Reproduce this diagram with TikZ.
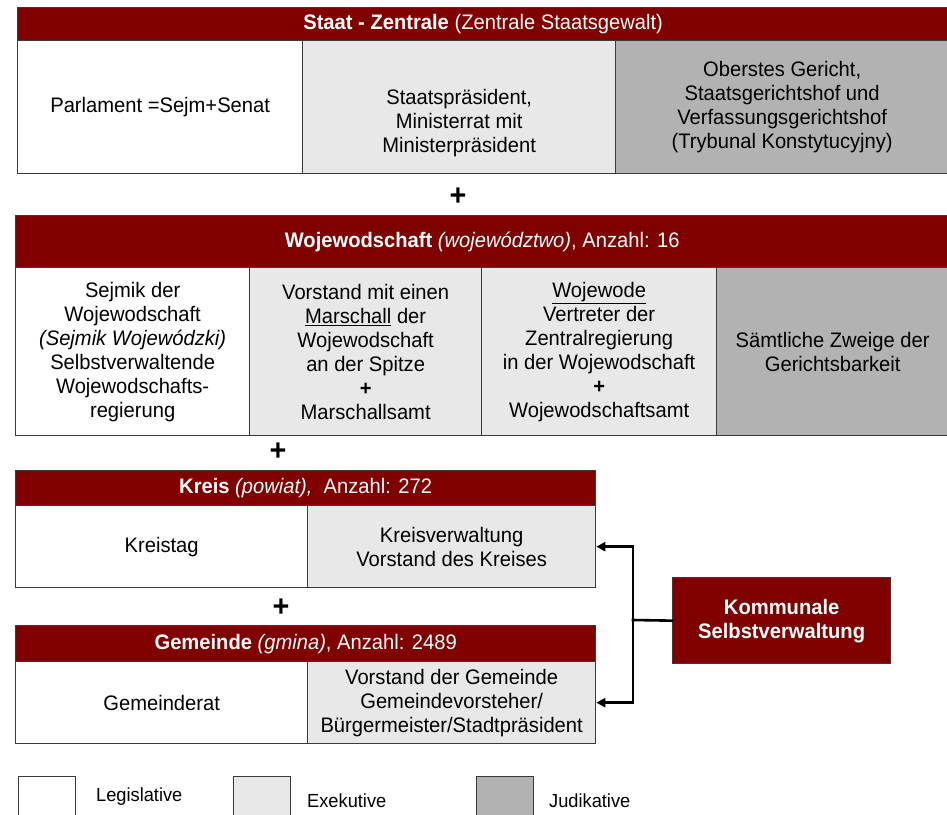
\documentclass[tikz,border=0pt]{standalone}
\usepackage{fontspec}
\setmainfont{Liberation Sans}[FakeStretch=0.96]
\usetikzlibrary{arrows.meta}

\definecolor{wine}{HTML}{800000}
\definecolor{execgray}{HTML}{E8E8E8}
\definecolor{judgray}{HTML}{B2B2B2}
\definecolor{rim}{HTML}{3A3A3A}

\tikzset{
  box/.style={draw=rim, line width=1.3pt, anchor=north west, inner sep=0pt,
              align=center, font=\fontsize{21}{24}\selectfont},
  sz/.style 2 args={minimum width=#1pt, minimum height=#2pt},
  legis/.style={box, fill=white},
  exe/.style={box, fill=execgray},
  jud/.style={box, fill=judgray},
  head/.style={box, fill=wine, text=white},
  plus/.style={font=\fontsize{30}{30}\selectfont\bfseries, inner sep=0pt},
  link/.style={line width=2.6pt, black, line cap=rect},
  tip/.style={-{Triangle[length=9pt,width=9pt]}},
  legendbox/.style={draw=rim, line width=1.3pt, anchor=north west,
                    minimum width=57pt, minimum height=50pt, inner sep=0pt},
  legendtext/.style={anchor=west, inner sep=0pt,
                     font=\fontsize{19}{22}\selectfont}
}

\begin{document}
\begin{tikzpicture}[x=1pt, y=-1pt]
\useasboundingbox (0,0) rectangle (947,814);

% central state level
\node[head, sz={931}{33}] (staat) at (17,7)
  {\textbf{Staat - Zentrale} (Zentrale Staatsgewalt)};
\node[legis, sz={285}{133}] (parl) at (17,40) {Parlament =Sejm+Senat};
\node[exe, sz={313}{133}] (praes) at (302,40)
  {\rule{0pt}{24pt}\\Staatspräsident,\\Ministerrat mit\\Ministerpräsident};
\node[jud, sz={333}{133}] (gericht) at (615,40)
  {Oberstes Gericht,\\Staatsgerichtshof und\\Verfassungsgerichtshof\\(Trybunal Konstytucyjny)};

\node[plus] (p1) at (458,197) {+};

% voivodeship level
\node[head, sz={933}{52}] (woj) at (15,215)
  {\textbf{Wojewodschaft} \textit{(województwo)}, Anzahl: 16};
\node[legis, sz={234}{168}] (sejmik) at (15,267)
  {Sejmik der\\Wojewodschaft\\\textit{(Sejmik Wojewódzki)}\\Selbstverwaltende\\Wojewodschafts-\\regierung};
\node[exe, sz={232}{168}] (vorstand) at (249,267)
  {Vorstand mit einen\\\underline{Marschall} der\\Wojewodschaft\\an der Spitze\\\textbf{+}\\Marschallsamt};
\node[exe, sz={235}{168}] (wojewode) at (481,267)
  {\underline{Wojewode}\\Vertreter der\\Zentralregierung\\in der Wojewodschaft\\\textbf{+}\\Wojewodschaftsamt};
\node[jud, sz={232}{168}] (zweige) at (716,267)
  {Sämtliche Zweige der\\Gerichtsbarkeit};

\node[plus] (p2) at (278,452) {+};

% district level
\node[head, sz={580}{35}] (kreis) at (15,470)
  {\textbf{Kreis} \textit{(powiat),}\ \ Anzahl: 272};
\node[legis, sz={292}{82}] (kreistag) at (15,505) {Kreistag};
\node[exe, sz={288}{82}] (kverw) at (307,505)
  {Kreisverwaltung\\Vorstand des Kreises};

\node[plus] (p3) at (281,608) {+};

% municipal level
\node[head, sz={580}{36}] (gemeinde) at (15,625)
  {\textbf{Gemeinde} \textit{(gmina)}, Anzahl: 2489};
\node[legis, sz={292}{82}] (grat) at (15,661) {Gemeinderat};
\node[exe, sz={288}{82}] (gverw) at (307,661)
  {Vorstand der Gemeinde\\Gemeindevorsteher/\\Bürgermeister/Stadtpräsident};

% local self-government
\node[head, sz={218}{86}] (komm) at (672,577)
  {\textbf{Kommunale}\\\textbf{Selbstverwaltung}};
\coordinate (split) at (633,620);
\draw[link] (komm.west) -- (split);
\draw[link, tip] (split) |- (kverw.east);
\draw[link, tip] (split) |- (gverw.east);

% legend
\node[legendbox, fill=white] (lg1) at (18,776) {};
\node[legendtext] (lt1) at (96,797) {Legislative};
\node[legendbox, fill=execgray] (lg2) at (233,776) {};
\node[legendtext] (lt2) at (307,801) {Exekutive};
\node[legendbox, fill=judgray] (lg3) at (476,776) {};
\node[legendtext] (lt3) at (549,801) {Judikative};
\end{tikzpicture}
\end{document}
